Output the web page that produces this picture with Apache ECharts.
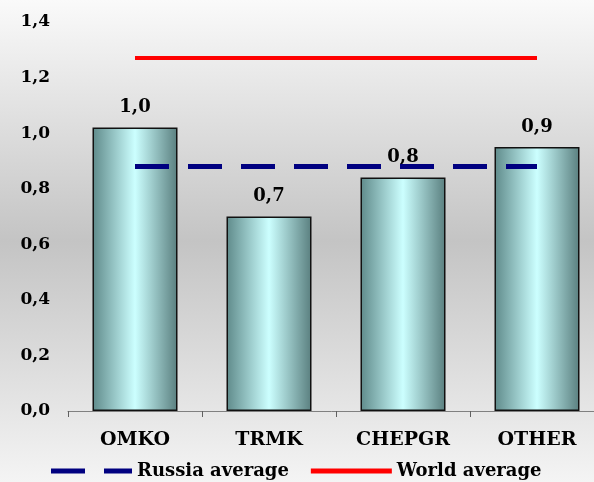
<!DOCTYPE html>
<html>
<head>
<meta charset="utf-8">
<title>ECharts</title>
<script src="https://cdn.jsdelivr.net/npm/echarts@6/dist/echarts.min.js"></script>
<style>html,body{margin:0;padding:0;}</style>
</head>
<body>
<div id="main1" style="width:594px;height:482px;"></div>
<script type="text/javascript">
    var categories = ['OMKO', 'TRMK', 'CHEPGR', 'OTHER'];
    var companyValues = [1.02, 0.70, 0.84, 0.95];
    var russiaAverage = [0.88, 0.88, 0.88, 0.88];
    var worldAverage = [1.27, 1.27, 1.27, 1.27];

    var fontFam = '"DejaVu Serif", serif';
    // comma as decimal separator
    var fmt = function (v) { return v.toFixed(1).replace('.', ','); };

    var myChart1 = echarts.init(document.getElementById('main1'));
    var option1 = {
        animation: false,
        graphic: [{
            type: 'rect', z: -10, silent: true,
            shape: {x: 0, y: 0, width: 594, height: 482},
            style: {
                fill: new echarts.graphic.LinearGradient(0, 0, 0, 1, [
                    {offset: 0, color: '#fafafa'},
                    {offset: 0.5, color: '#c4c4c4'},
                    {offset: 1, color: '#f4f4f4'}
                ])
            }
        }],
        grid: {left: 68, top: 22, bottom: 71, width: 536, outerBoundsMode: 'none'},
        legend: {
            left: 46, top: 462, padding: [0, 0, 0, 5],
            data: [
                {name: 'Russia average', icon: 'path://M0,0H34V5H0Z M53,0H81V5H53Z'},
                {name: 'World average', icon: 'path://M0,0H81V5H0Z'}
            ],
            itemWidth: 81, itemHeight: 5, itemGap: 22,
            textStyle: {fontFamily: fontFam, fontWeight: 'bold', fontSize: 18, color: '#000'}
        },
        xAxis: {
            type: 'category',
            data: categories,
            axisLine: {lineStyle: {color: '#808080', width: 1}},
            axisTick: {show: true, length: 6, lineStyle: {color: '#606060'}},
            axisLabel: {margin: 20, fontFamily: fontFam, fontWeight: 'bold', fontSize: 19, color: '#000'}
        },
        yAxis: {
            type: 'value',
            min: 0, max: 1.4, interval: 0.2,
            axisLine: {show: false},
            axisTick: {show: false},
            splitLine: {show: false},
            axisLabel: {
                margin: 18, fontFamily: fontFam, fontWeight: 'bold', fontSize: 17, color: '#000',
                formatter: fmt
            }
        },
        series: [
            {
                name: 'Company',
                type: 'bar',
                data: companyValues,
                barWidth: 85,
                itemStyle: {
                    borderColor: '#111', borderWidth: 1.5,
                    color: new echarts.graphic.LinearGradient(0, 0, 1, 0, [
                        {offset: 0, color: '#5f8a8a'},
                        {offset: 0.5, color: '#ccffff'},
                        {offset: 1, color: '#5a7f7f'}
                    ])
                },
                label: {
                    show: true, position: 'top', distance: 11,
                    fontFamily: fontFam, fontWeight: 'bold', fontSize: 18, color: '#000',
                    formatter: function (p) { return fmt(p.value); }
                },
                z: 2
            },
            {
                name: 'Russia average',
                type: 'line',
                data: russiaAverage,
                symbol: 'none',
                itemStyle: {color: '#000080'},
                lineStyle: {color: '#000080', width: 5, type: [34, 19]},
                z: 3
            },
            {
                name: 'World average',
                type: 'line',
                data: worldAverage,
                symbol: 'none',
                itemStyle: {color: '#ff0000'},
                lineStyle: {color: '#ff0000', width: 4},
                z: 3
            }
        ]
    };
    myChart1.setOption(option1);
</script>
</body>
</html>
